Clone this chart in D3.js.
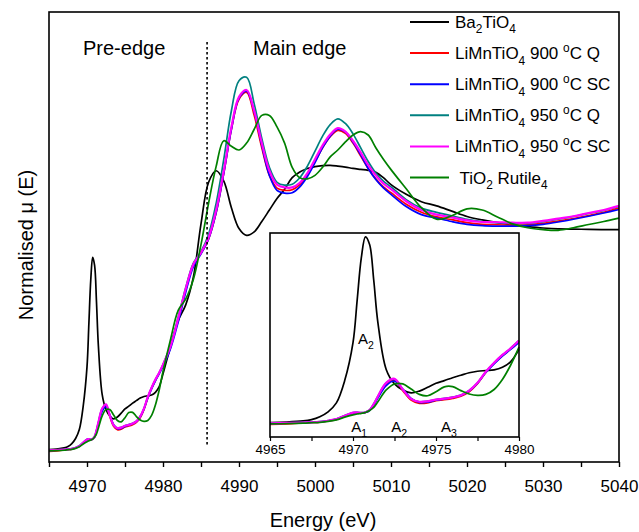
<!DOCTYPE html>
<html>
<head>
<meta charset="utf-8">
<script src="https://cdn.jsdelivr.net/npm/d3@7"></script>
<style>
  body { margin: 0; background: #fff; }
  text { font-family: "Liberation Sans", Arial, sans-serif; fill: #000; }
</style>
</head>
<body>
<div id="chart"></div>
<script>

// energy grid (eV)
var energy = [
  4965, 4966, 4967, 4967.5, 4968, 4968.5, 4969, 4969.5, 4970, 4970.25, 4970.5, 4970.75, 4971, 4971.25, 4971.5, 4972,
  4972.5, 4973, 4973.5, 4974, 4974.5, 4975, 4975.5, 4976, 4976.5, 4977, 4977.5, 4978, 4978.5, 4979, 4979.5, 4980,
  4981, 4982, 4983, 4984, 4985, 4986, 4987, 4988, 4989, 4990, 4991, 4992, 4993, 4994, 4995,
  4996, 4997, 4998, 4999, 5000, 5001, 5002, 5003, 5004, 5005, 5006, 5007, 5008, 5009, 5010,
  5012, 5014, 5016, 5018, 5020, 5022, 5024, 5026, 5028, 5030, 5032, 5034, 5036, 5038, 5040
];

var ba2tio4 = [
  0.002, 0.004, 0.009, 0.015, 0.028, 0.05, 0.09, 0.19, 0.36, 0.55, 0.74, 0.835, 0.80, 0.64, 0.45, 0.24,
  0.175, 0.148, 0.135, 0.143, 0.16, 0.178, 0.19, 0.203, 0.214, 0.225, 0.232, 0.235, 0.238, 0.25, 0.275, 0.33,
  0.45, 0.56, 0.63, 0.75, 0.98, 1.16, 1.21, 1.165, 1.05, 0.96, 0.93, 0.945, 0.99, 1.04, 1.09,
  1.13, 1.18, 1.205, 1.22, 1.228, 1.232, 1.233, 1.23, 1.226, 1.22, 1.216, 1.212, 1.203, 1.18, 1.15,
  1.108, 1.076, 1.058, 1.035, 1.012, 0.997, 0.985, 0.975, 0.968, 0.962, 0.958, 0.957, 0.956, 0.955, 0.955
];

var lmt900Q = [
  -0.006, -0.004, 0.0, 0.002, 0.004, 0.009, 0.016, 0.03, 0.044, 0.045, 0.044, 0.047, 0.056, 0.082, 0.116, 0.175,
  0.192, 0.145, 0.103, 0.088, 0.09, 0.1, 0.104, 0.11, 0.12, 0.14, 0.176, 0.226, 0.268, 0.302, 0.333, 0.368,
  0.45, 0.565, 0.695, 0.805, 0.852, 0.915, 1.03, 1.2, 1.39, 1.52, 1.55, 1.45, 1.31, 1.19, 1.135,
  1.125, 1.128, 1.15, 1.192, 1.25, 1.31, 1.358, 1.385, 1.372, 1.33, 1.275, 1.22, 1.175, 1.14, 1.115,
  1.065, 1.03, 1.01, 0.998, 0.985, 0.978, 0.976, 0.975, 0.976, 0.982, 0.992, 1.003, 1.016, 1.03, 1.048
];

var lmt900SC = [
  -0.003, -0.001, 0.001, 0.003, 0.005, 0.01, 0.017, 0.031, 0.045, 0.046, 0.044, 0.047, 0.056, 0.08, 0.112, 0.168,
  0.188, 0.152, 0.11, 0.092, 0.093, 0.102, 0.108, 0.114, 0.123, 0.143, 0.178, 0.226, 0.265, 0.3, 0.33, 0.362,
  0.44, 0.555, 0.685, 0.795, 0.85, 0.915, 1.03, 1.2, 1.39, 1.525, 1.555, 1.465, 1.32, 1.19, 1.125,
  1.113, 1.115, 1.14, 1.185, 1.245, 1.31, 1.36, 1.39, 1.378, 1.335, 1.28, 1.22, 1.172, 1.136, 1.108,
  1.055, 1.02, 1.005, 0.99, 0.978, 0.972, 0.97, 0.97, 0.972, 0.978, 0.988, 1.0, 1.013, 1.027, 1.042
];

var lmt950Q = [
  -0.001, 0.001, 0.003, 0.004, 0.006, 0.011, 0.018, 0.033, 0.047, 0.048, 0.046, 0.049, 0.059, 0.086, 0.12, 0.18,
  0.196, 0.15, 0.108, 0.095, 0.098, 0.105, 0.11, 0.116, 0.125, 0.146, 0.18, 0.23, 0.27, 0.305, 0.335, 0.37,
  0.455, 0.575, 0.705, 0.81, 0.86, 0.935, 1.07, 1.26, 1.47, 1.60, 1.615, 1.50, 1.35, 1.225, 1.16,
  1.148, 1.152, 1.18, 1.23, 1.295, 1.36, 1.41, 1.435, 1.415, 1.37, 1.31, 1.25, 1.2, 1.165, 1.14,
  1.085, 1.048, 1.03, 1.015, 1.0, 0.99, 0.985, 0.982, 0.982, 0.99, 1.0, 1.012, 1.025, 1.038, 1.055
];

var lmt950SC = [
  -0.002, 0.0, 0.002, 0.003, 0.005, 0.01, 0.017, 0.032, 0.046, 0.047, 0.045, 0.048, 0.058, 0.085, 0.12, 0.18,
  0.198, 0.15, 0.108, 0.095, 0.097, 0.105, 0.109, 0.115, 0.124, 0.145, 0.18, 0.23, 0.27, 0.305, 0.335, 0.37,
  0.45, 0.57, 0.70, 0.805, 0.855, 0.92, 1.04, 1.21, 1.40, 1.53, 1.56, 1.47, 1.33, 1.21, 1.15,
  1.138, 1.138, 1.158, 1.2, 1.26, 1.32, 1.367, 1.395, 1.38, 1.34, 1.29, 1.235, 1.19, 1.155, 1.13,
  1.078, 1.04, 1.02, 1.008, 0.995, 0.988, 0.987, 0.985, 0.985, 0.993, 1.003, 1.013, 1.027, 1.04, 1.058
];

var rutile = [
  -0.004, -0.003, -0.001, 0.001, 0.003, 0.007, 0.014, 0.026, 0.036, 0.04, 0.043, 0.047, 0.056, 0.07, 0.095, 0.148,
  0.175, 0.175, 0.152, 0.128, 0.122, 0.14, 0.162, 0.163, 0.145, 0.13, 0.124, 0.128, 0.15, 0.195, 0.26, 0.34,
  0.48, 0.605, 0.655, 0.74, 0.89, 1.07, 1.23, 1.34, 1.316, 1.30, 1.33, 1.39, 1.45, 1.45, 1.40,
  1.33, 1.225, 1.18, 1.175, 1.19, 1.225, 1.27, 1.30, 1.335, 1.365, 1.38, 1.365, 1.31, 1.26, 1.215,
  1.132, 1.05, 1.0, 1.015, 1.045, 1.04, 1.01, 0.98, 0.963, 0.955, 0.952, 0.963, 0.977, 0.99, 1.005
];

// legend text: "_" = subscript next char, "^" = superscript next char
var seriesLabels = ["Ba_2TiO_4", "LiMnTiO_4 900 ^oC Q", "LiMnTiO_4 900 ^oC SC",
                    "LiMnTiO_4 950 ^oC Q", "LiMnTiO_4 950 ^oC SC", " TiO_2 Rutile_4"];
var seriesColors = ["#000000", "#ff0000", "#0000ff", "#008080", "#ff00ff", "#008000"];
var seriesValues = [ba2tio4, lmt900Q, lmt900SC, lmt950Q, lmt950SC, rutile];

var xTicks = d3.range(4965, 5041, 5);
var insetTicks = d3.range(4965, 4980.1, 2.5);
var edgeSplit = 4985.8;

// inset labels: [energy, inset value, text]
var insetNotes = [[4970.3, 0.355, "A_2"], [4969.9, -0.04, "A_1"], [4972.3, -0.04, "A_2"], [4975.3, -0.04, "A_3"]];

var width = 639, height = 532;

var svg = d3.select('#chart').append('svg')
    .attr('width', width)
    .attr('height', height);

svg.append('rect').attr('width', width).attr('height', height).attr('fill', '#fff');

var xScale = d3.scaleLinear().domain([4965, 5040]).range([49, 619]);
var yScale = d3.scaleLinear().domain([-0.052, 1.898]).range([462, 12]);

var xIn = d3.scaleLinear().domain([4965, 4980]).range([270, 519]);
var yIn = d3.scaleLinear().domain([-0.063, 0.852]).range([437, 233]);

var series = seriesValues.map(function (vals, i) {
  return {
    label: seriesLabels[i],
    color: seriesColors[i],
    values: energy.map(function (e, j) { return {x: e, y: vals[j]}; })
  };
});

function addRich(sel, str, size) {
  var parts = [];
  var i = 0;
  while (i < str.length) {
    var c = str[i];
    if ((c === '_' || c === '^') && i + 1 < str.length) {
      parts.push({t: str[i + 1], k: c});
      i += 2;
    } else {
      if (parts.length && parts[parts.length - 1].k === '') parts[parts.length - 1].t += c;
      else parts.push({t: c, k: ''});
      i++;
    }
  }
  var shift = 0;
  parts.forEach(function (p) {
    var target = p.k === '_' ? size * 0.32 : (p.k === '^' ? -size * 0.42 : 0);
    sel.append('tspan')
      .attr('dy', target - shift)
      .style('font-size', (p.k ? size * 0.7 : size) + 'px')
      .text(p.t);
    shift = target;
  });
}

// main curves
var line = d3.line()
    .curve(d3.curveCatmullRom.alpha(0.5))
    .x(function (d) { return xScale(d.x); })
    .y(function (d) { return yScale(d.y); });

svg.append('g').selectAll('path')
    .data(series)
  .enter().append('path')
    .attr('fill', 'none')
    .attr('stroke', function (d) { return d.color; })
    .attr('stroke-width', function (d) { return d.color === '#ff00ff' ? 2.2 : 1.7; })
    .attr('d', function (d) { return line(d.values); });

// dotted divider
svg.append('line')
    .attr('x1', xScale(edgeSplit)).attr('x2', xScale(edgeSplit))
    .attr('y1', 42).attr('y2', 445)
    .attr('stroke', '#000')
    .attr('stroke-width', 1.6)
    .attr('stroke-dasharray', '2.5,2.5');

svg.append('text').attr('x', 83).attr('y', 55).style('font-size', '20px').text('Pre-edge');
svg.append('text').attr('x', 253).attr('y', 55).style('font-size', '20px').text('Main edge');

// frame + x axis
svg.append('rect')
    .attr('x', 49).attr('y', 12).attr('width', 570).attr('height', 450)
    .attr('fill', 'none').attr('stroke', '#000').attr('stroke-width', 1.6);

var xAxis = d3.axisBottom(xScale)
    .tickValues(xTicks)
    .tickSize(5)
    .tickPadding(13)
    .tickFormat(function (d) { return d % 10 === 0 ? d : ''; });

var gx = svg.append('g').attr('transform', 'translate(0,462)').call(xAxis);
gx.select('.domain').remove();
gx.selectAll('line').attr('stroke', '#000').attr('stroke-width', 1.4);
gx.selectAll('text')
    .style('font-size', '17px')
    .style('font-family', '"Liberation Sans", Arial, sans-serif');

svg.append('text')
    .attr('x', 323).attr('y', 527)
    .attr('text-anchor', 'middle')
    .style('font-size', '20px')
    .text('Energy (eV)');

svg.append('text')
    .attr('transform', 'translate(33,245) rotate(-90)')
    .attr('text-anchor', 'middle')
    .style('font-size', '20px')
    .text('Normalised \u03bc (E)');

// legend
var legend = svg.append('g').selectAll('g')
    .data(series)
  .enter().append('g')
    .attr('transform', function (d, i) { return 'translate(0,' + (22 + i * 31.1) + ')'; });

legend.append('line')
    .attr('x1', 410).attr('x2', 449)
    .attr('stroke', function (d) { return d.color; })
    .attr('stroke-width', 2);

legend.append('text')
    .attr('x', 455).attr('y', 6)
    .style('white-space', 'pre')
    .each(function (d) { addRich(d3.select(this), d.label, 17); });

// inset
var inset = svg.append('g');
inset.append('rect')
    .attr('x', 270).attr('y', 233).attr('width', 249).attr('height', 204)
    .attr('fill', '#fff');

var lineIn = d3.line()
    .curve(d3.curveCatmullRom.alpha(0.5))
    .x(function (d) { return xIn(d.x); })
    .y(function (d) { return yIn(d.y); });

inset.append('g').selectAll('path')
    .data(series)
  .enter().append('path')
    .attr('fill', 'none')
    .attr('stroke', function (d) { return d.color; })
    .attr('stroke-width', function (d) { return d.color === '#ff00ff' ? 2.2 : 1.7; })
    .attr('d', function (d) {
      return lineIn(d.values.filter(function (p) { return p.x <= 4980; }));
    });

inset.append('rect')
    .attr('x', 270).attr('y', 233).attr('width', 249).attr('height', 204)
    .attr('fill', 'none').attr('stroke', '#000').attr('stroke-width', 1.6);

var inAxis = d3.axisBottom(xIn)
    .tickValues(insetTicks)
    .tickSize(4)
    .tickPadding(3)
    .tickFormat(function (d) { return d % 5 === 0 ? d : ''; });

var gi = inset.append('g').attr('transform', 'translate(0,437)').call(inAxis);
gi.select('.domain').remove();
gi.selectAll('line').attr('stroke', '#000').attr('stroke-width', 1.2);
gi.selectAll('text')
    .style('font-size', '13.5px')
    .style('font-family', '"Liberation Sans", Arial, sans-serif');

inset.selectAll('.note')
    .data(insetNotes)
  .enter().append('text')
    .attr('class', 'note')
    .attr('x', function (d) { return xIn(d[0]); })
    .attr('y', function (d) { return yIn(d[1]); })
    .each(function (d) { addRich(d3.select(this), d[2], 15); });

</script>
</body>
</html>
